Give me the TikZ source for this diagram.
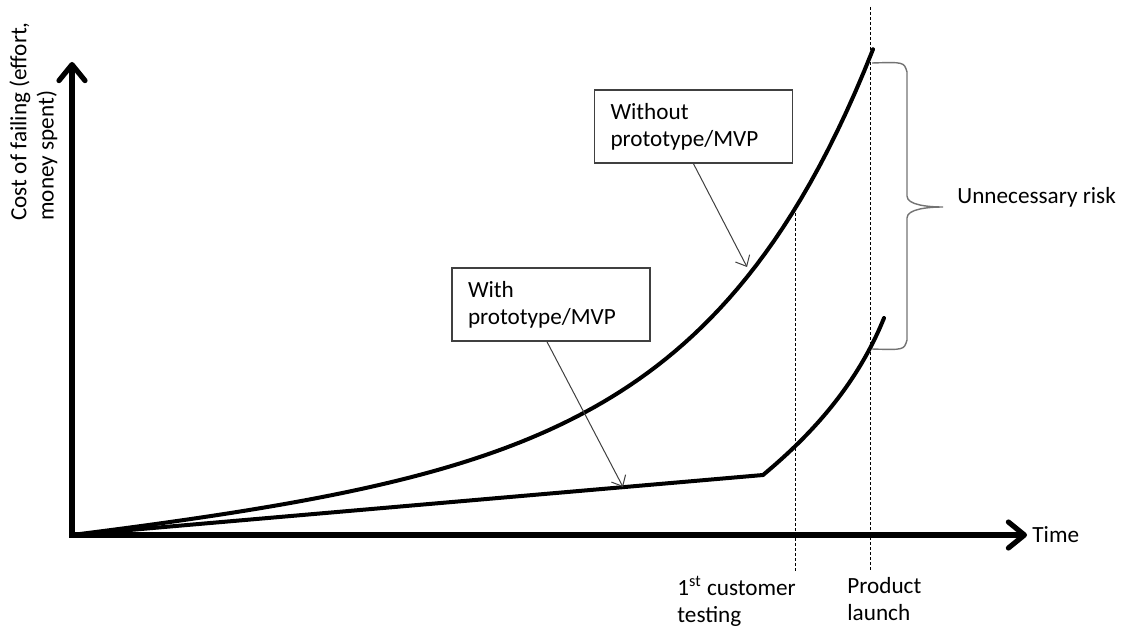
\documentclass[tikz,border=0pt]{standalone}
\usepackage{fontspec}
\setmainfont{Carlito}
\usetikzlibrary{arrows.meta}

\begin{document}
\begin{tikzpicture}[x=0.5pt,y=-0.5pt]
\tikzstyle{every node}=[font=\fontsize{11.6pt}{13.6pt}\selectfont, inner sep=0pt]
\tikzstyle{axis}=[line width=2.6pt, {Straight Barb[round,length=8pt,width=13pt]}-{Straight Barb[round,length=8pt,width=13pt]}]
\tikzstyle{curve}=[line width=2pt, line cap=round]
\tikzstyle{marker}=[line width=0.5pt, dash pattern=on 1.5pt off 1pt]
\tikzstyle{callout}=[draw=black!75, line width=0.8pt, fill=white, minimum height=36.5pt, inner xsep=8pt, text width=83pt, align=left]
\tikzstyle{pointer}=[draw=black!75, line width=0.5pt, -{Straight Barb[length=4.5pt,width=8pt]}]
\useasboundingbox (0,0) rectangle (1128,626);

\coordinate (O) at (72,535);
\coordinate (ytip) at (72,62);
\coordinate (xtip) at (1027,535);
\coordinate (testtop) at (795,208);
\coordinate (testbot) at (795,572);
\coordinate (launchtop) at (870,7);
\coordinate (launchbot) at (870,572);
\coordinate (kink) at (763,475);
\coordinate (withend) at (884,318);

% dashed time markers
\draw[marker] (testtop) -- (testbot);
\draw[marker] (launchtop) -- (launchbot);

% curves
\draw[curve] plot[domain=72:873, samples=90] (\x, {535 - 0.1056*(\x-72) - 3.317*(exp(0.006*(\x-72))-1)});
\draw[curve] (O) -- (kink) .. controls (805,440) and (855,390) .. (withend);

% axes
\draw[axis] (ytip) -- (O) -- (xtip);

% brace
\draw[black!55, line width=0.7pt] (872,63) .. controls (904,62) .. (907,72) -- (907,196)
  .. controls (907,205) and (928,207) .. (943,207)
  .. controls (928,207) and (907,209) .. (907,218) -- (907,340)
  .. controls (904,350) .. (872,349);

% callouts
\node[callout] (nowo) at (693.5,126.5) {Without\\prototype/MVP};
\node[callout] (with) at (551,304.5) {With\\prototype/MVP};
\coordinate (nowotip) at (747,267);
\coordinate (withtip) at (623,487);
\draw[pointer] (nowo.south) -- (nowotip);
\draw[pointer] ([xshift=-2pt]with.south) -- (withtip);

% labels
\node[anchor=west] (risk) at (957,197) {Unnecessary risk};
\node[anchor=west] (time) at (1032,535) {Time};
\node[anchor=north west, align=left] (test) at (677,576) {1\textsuperscript{st} customer\\testing};
\node[anchor=north west, align=left] (launch) at (847,577) {Product\\launch};
\node[rotate=90, anchor=north west, align=left] (ylabel) at (9,221) {Cost of failing (effort,\\money spent)};
\end{tikzpicture}
\end{document}
